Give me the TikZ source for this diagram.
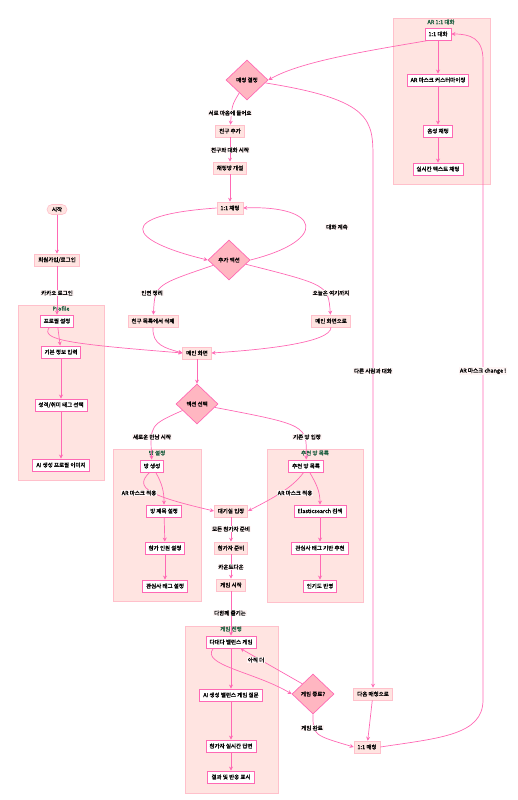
\documentclass[tikz,border=0pt]{standalone}
\usepackage{fontspec}
\setmainfont{Noto Sans CJK KR}[AutoFakeBold=1.6]
\usetikzlibrary{shapes.geometric,arrows.meta,calc}
\definecolor{edgec}{HTML}{FF69B4}
\definecolor{boxline}{HTML}{FFC0CB}
\definecolor{boxfill}{HTML}{FFE4E1}
\definecolor{diafill}{HTML}{FFB6C1}
\definecolor{titlec}{HTML}{1D5E40}
\definecolor{lblfill}{HTML}{FFF6F6}
\newcommand\nfs{\fontsize{5.5}{6.5}\selectfont\bfseries}
\tikzset{
 box/.style={draw=boxline, fill=boxfill, line width=0.6pt, minimum height=12pt, inner xsep=3.5pt, inner ysep=1pt, font=\nfs},
 ibox/.style={draw=edgec, fill=white, line width=0.9pt, minimum height=12pt, inner xsep=3.5pt, inner ysep=1pt, font=\nfs},
 startbox/.style={draw=boxline, fill=boxfill, line width=0.6pt, rounded corners=5pt, minimum height=10pt, minimum width=20pt, inner sep=1pt, font=\nfs},
 dia/.style={diamond, draw=edgec, fill=diafill, line width=0.7pt, minimum width=42pt, minimum height=40pt, inner sep=0pt, font=\nfs},
 cluster/.style={draw=boxline, fill=boxfill, line width=0.6pt},
 ctitle/.style={text=titlec, font=\nfs, inner sep=0.5pt},
 lbl/.style={fill=lblfill, inner sep=0.8pt, font=\nfs},
 edge/.style={draw=edgec, line width=0.7pt, -{Stealth[length=4pt,width=4pt]}},
}
\begin{document}
\begin{tikzpicture}[x=1pt,y=-1pt]
\useasboundingbox (0,0) rectangle (518,800);
% clusters
\path[cluster] (393,18) rectangle (490,184);
\node[ctitle] (tAR) at (441,22) {AR 1:1 대화};
\path[cluster] (18,305) rectangle (104,480);
\node[ctitle] (tPro) at (61,308.5) {Profile};
\path[cluster] (113,449) rectangle (201,601);
\node[ctitle] (tRoom) at (157,453) {방 설정};
\path[cluster] (267,449) rectangle (363,602);
\node[ctitle] (tRec) at (315,453) {추천 방 목록};
\path[cluster] (185,626) rectangle (278,793);
\node[ctitle] (tGame) at (231,629) {게임 진행};

% AR cluster nodes
\node[ibox] (ar1) at (438,34) {1:1 대화};
\node[ibox] (arm) at (438,80) {AR 마스크 커스터마이징};
\node[ibox] (voice) at (438,131) {음성 채팅};
\node[ibox] (text) at (438,169) {실시간 텍스트 채팅};

% top flow
\node[dia] (d1) at (247,80) {매칭 결정};
\node[box] (friend) at (230,131) {친구 추가};
\node[box] (room1) at (230,168) {채팅방 개설};
\node[box] (c11) at (230,208) {1:1 채팅};
\node[dia] (d2) at (229,260) {추가 액션};
\node[box] (fdel) at (153,321) {친구 목록에서 삭제};
\node[box] (mto) at (331,321) {메인 화면으로};
\node[box] (main) at (197,353) {메인 화면};
\node[dia] (d3) at (197,404) {액션 선택};

% left column
\node[startbox] (start) at (57,209.5) {시작};
\node[box] (login) at (57,260) {회원가입/로그인};
\node[ibox] (prof) at (57,321) {프로필 설정};
\node[ibox] (basic) at (61,352) {기본 정보 입력};
\node[ibox] (tags) at (61,405) {성격/취미 태그 선택};
\node[ibox] (aiimg) at (61,465) {AI 생성 프로필 이미지};

% room cluster
\node[ibox] (room) at (152,466) {방 생성};
\node[ibox] (rtitle) at (164,511) {방 제목 설정};
\node[ibox] (rnum) at (165,548) {참가 인원 설정};
\node[ibox] (rtag) at (165,586) {관심사 태그 설정};

% rec cluster
\node[ibox] (rec) at (306,466) {추천 방 목록};
\node[ibox] (es) at (320,511) {Elasticsearch 검색};
\node[ibox] (tagrec) at (320,548) {관심사 태그 기반 추천};
\node[ibox] (pop) at (320,586) {인기도 반영};

% middle
\node[box] (wait) at (231,511) {대기실 입장};
\node[box] (ready) at (231,548) {참가자 준비};
\node[box] (gstart) at (231,585) {게임 시작};

% game cluster
\node[ibox] (bal) at (231,642) {다대다 밸런스 게임};
\node[ibox] (aiq) at (231,695) {AI 생성 밸런스 게임 질문};
\node[ibox] (ans) at (231,746) {참가자 실시간 답변};
\node[ibox] (res) at (231,777) {결과 및 반응 표시};
\node[dia] (dend) at (313,694) {게임 종료?};
\node[box] (nm) at (373,694) {다음 매칭으로};
\node[box] (m11) at (367,747) {1:1 매칭};

% edges
\draw[edge] (ar1) -- (arm);
\draw[edge] (arm) -- (voice);
\draw[edge] (voice) -- (text);
\draw[edge] ([xshift=4pt]ar1.south west) .. controls (360,52) and (300,62) .. (d1.east);
\draw[edge] (d1) .. controls (232,105) .. (friend);
\draw[edge] (d1) .. controls (373,100) and (373,120) .. (373,160) -- (nm);
\draw[edge] (friend) -- (room1);
\draw[edge] (room1) -- (c11);
\draw[edge] (c11.west) .. controls (115,215) and (125,240) .. (d2.west);
\draw[edge] (d2.east) .. controls (330,240) and (320,205) .. (c11.east);
\draw[edge] (d2) .. controls (155,285) .. (fdel);
\draw[edge] (d2) .. controls (328,285) .. (mto);
\draw[edge] (fdel.south) .. controls (152,345) and (165,348) .. (main.west);
\draw[edge] (mto.south) .. controls (331,343) and (260,350) .. (main.east);
\draw[edge] (start) -- (login);
\draw[edge] (login) -- (prof);
\draw[edge] (prof) -- (basic);
\draw[edge] (basic) -- (tags);
\draw[edge] (tags) -- (aiimg);
\draw[edge] (prof.220) .. controls (40,340) and (70,344) .. (main.west);
\draw[edge] (main) -- (d3);
\draw[edge] (d3) .. controls (150,425) .. (room);
\draw[edge] (d3) .. controls (307,425) .. (rec);
\draw[edge] (room) to[out=-60,in=90] (rtitle);
\draw[edge] (rtitle) -- (rnum);
\draw[edge] (rnum) -- (rtag);
\draw[edge] (room.250) .. controls (133,488) and (150,496) .. (wait.west);
\draw[edge] (rec) to[out=-60,in=90] (es);
\draw[edge] (es) -- (tagrec);
\draw[edge] (tagrec) -- (pop);
\draw[edge] (rec.250) .. controls (292,488) and (275,497) .. (wait.east);
\draw[edge] (wait) -- (ready);
\draw[edge] (ready) -- (gstart);
\draw[edge] (gstart) -- (bal);
\draw[edge] (bal) -- (aiq);
\draw[edge] (aiq) -- (ans);
\draw[edge] (ans) -- (res);
\draw[edge] (bal.200) .. controls (200,665) and (255,672) .. (dend.west);
\draw[edge] (dend.north west) -- ([xshift=-16pt]bal.south east);
\draw[edge] (dend.south) .. controls (313,735) .. (m11.west);
\draw[edge] (nm) -- (m11);
\draw[edge] (m11.east) .. controls (440,738) and (483,735) .. (483,700) -- (483,60) .. controls (483,38) and (470,34) .. (ar1.east);

% labels
\node[lbl] (l1) at (230,113) {서로 마음에 들어요};
\node[lbl] (l2) at (230,150) {친구와 대화 시작};
\node[lbl] (l3) at (337,227) {대화 계속};
\node[lbl] (l4) at (152,293) {인연 정리};
\node[lbl] (l5) at (331,293) {오늘은 여기까지};
\node[lbl] (l6) at (57,293) {카카오 로그인};
\node[lbl] (l7) at (152,437) {새로운 만남 시작};
\node[lbl] (l8) at (307,437) {기존 방 입장};
\node[lbl] (l9) at (139,493) {AR 마스크 적용};
\node[lbl] (l10) at (295,493) {AR 마스크 적용};
\node[lbl] (l11) at (231,529) {모든 참가자 준비};
\node[lbl] (l12) at (231,567) {카운트다운};
\node[lbl] (l13) at (230,613) {다함께 즐기는};
\node[lbl] (l14) at (256,660) {아직 더};
\node[lbl] (l15) at (312,728) {게임 완료};
\node[lbl] (l16) at (373,371) {다른 사람과 대화};
\node[lbl] (l17) at (483,371) {AR 마스크 change !};
\end{tikzpicture}
\end{document}
